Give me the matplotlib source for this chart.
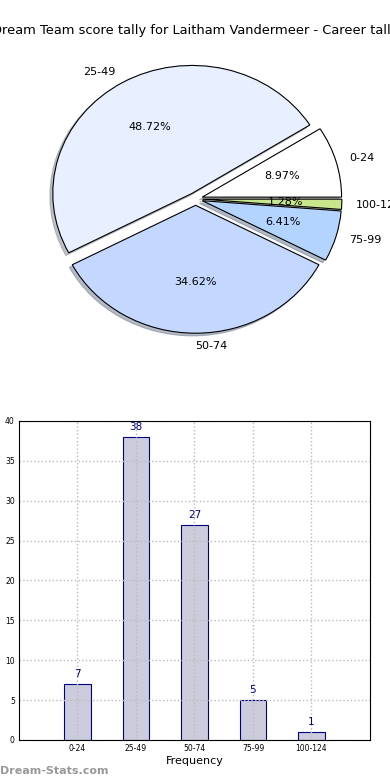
import matplotlib
matplotlib.use("Agg")
import matplotlib.pyplot as plt

# data
ranges = ["0-24", "25-49", "50-74", "75-99", "100-124"]
counts = [7, 38, 27, 5, 1]
pie_colors = ["#ffffff", "#e8f0ff", "#c4d8ff", "#b3d4ff", "#c8e68c"]

fig = plt.figure(figsize=(3.9, 7.8), dpi=100)
fig.text(0.5, 0.9615, "Dream Team score tally for Laitham Vandermeer - Career tally",
         ha="center", va="center", fontsize=9.4)

# pie
ax1 = fig.add_axes([0.055, 0.54, 0.893, 0.41])
wedges, texts, autotexts = ax1.pie(counts, labels=ranges, colors=pie_colors,
                                   explode=[0.05] * len(counts), autopct="%1.2f%%",
                                   shadow=dict(ox=-0.015, oy=-0.015, shade=0.45),
                                   startangle=0,
                                   wedgeprops=dict(edgecolor="black", linewidth=0.8),
                                   textprops=dict(fontsize=8))
ax1.set_aspect("auto")
ax1.set_xlim(-1.25, 1.25)
ax1.set_ylim(-1.25, 1.25)

# bars
ax2 = fig.add_axes([0.0487, 0.0513, 0.9, 0.409])
x = list(range(len(ranges)))
ax2.bar(x, counts, width=0.45, color="#ccccdd", edgecolor="navy", linewidth=0.8, zorder=1)
for xi, c in zip(x, counts):
    ax2.text(xi, c + 0.6, str(c), ha="center", va="bottom", color="navy", fontsize=7.5)
ax2.set_xlim(-1, 5)
ax2.set_ylim(0, 40)
ax2.set_xticks(x)
ax2.set_xticklabels(ranges, fontsize=5.5)
ax2.set_yticks(range(0, 41, 5))
ax2.tick_params(axis="y", labelsize=5.5)
ax2.tick_params(length=0, pad=3)
ax2.set_axisbelow("line")
ax2.grid(True, linestyle=":", color="#bbbbbb", linewidth=1)
ax2.set_xlabel("Frequency", fontsize=8, labelpad=2)

fig.text(0.0, 0.012, "Dream-Stats.com", color="#999999", fontsize=8, fontweight="bold",
         ha="left", va="center")

fig.savefig("out.png", dpi=100)
